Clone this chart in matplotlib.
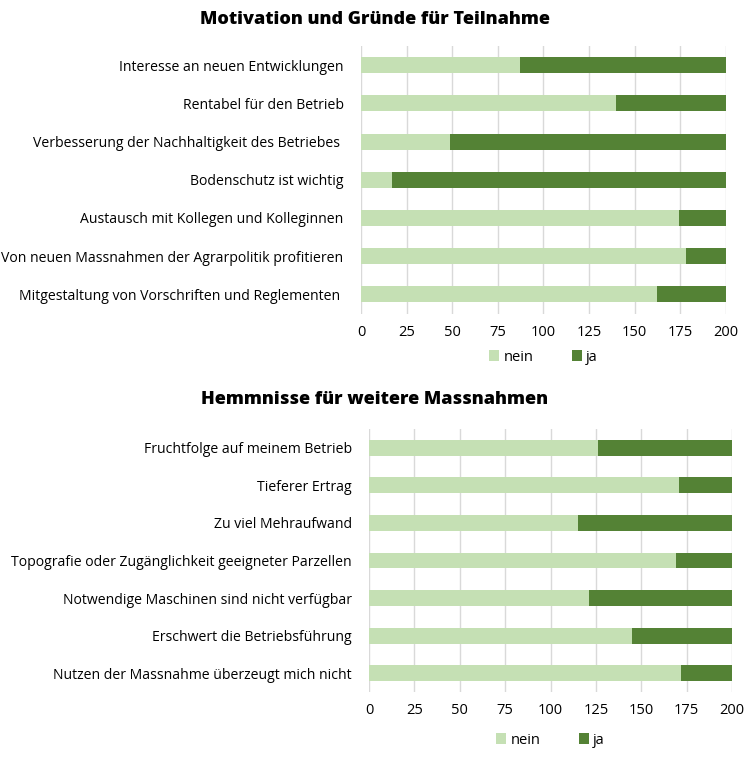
import numpy as np
import matplotlib
matplotlib.use("Agg")
import matplotlib.pyplot as plt

plt.rcParams['font.family'] = ['Open Sans', 'DejaVu Sans']

# Motivation und Gründe für Teilnahme
motiv_labels = [
    "Interesse an neuen Entwicklungen",
    "Rentabel für den Betrieb",
    "Verbesserung der Nachhaltigkeit des Betriebes ",
    "Bodenschutz ist wichtig",
    "Austausch mit Kollegen und Kolleginnen",
    "Von neuen Massnahmen der Agrarpolitik profitieren",
    "Mitgestaltung von Vorschriften und Reglementen ",
]
motiv_nein = [87, 140, 49, 17, 174, 178, 162]
motiv_ja = [113, 60, 151, 183, 26, 22, 38]

# Hemmnisse für weitere Massnahmen
hemm_labels = [
    "Fruchtfolge auf meinem Betrieb",
    "Tieferer Ertrag",
    "Zu viel Mehraufwand",
    "Topografie oder Zugänglichkeit geeigneter Parzellen",
    "Notwendige Maschinen sind nicht verfügbar",
    "Erschwert die Betriebsführung",
    "Nutzen der Massnahme überzeugt mich nicht",
]
hemm_nein = [126, 171, 115, 169, 121, 145, 172]
hemm_ja = [74, 29, 85, 31, 79, 55, 28]

x_ticks = [0, 25, 50, 75, 100, 125, 150, 175, 200]

c_nein = "#c5e0b4"
c_ja = "#548235"

fig = plt.figure(figsize=(7.5, 7.61), dpi=100)


def draw(ax, labels, nein, ja, title, title_y, legend_y):
    y = np.arange(len(labels))
    ax.barh(y, nein, height=0.42, color=c_nein, label="nein", zorder=2)
    ax.barh(y, ja, left=nein, height=0.42, color=c_ja, label="ja", zorder=2)
    ax.set_yticks(y)
    ax.set_yticklabels(labels, fontsize=10.05)
    ax.set_ylim(len(labels) - 0.5, -0.5)
    ax.set_xlim(0, 200)
    ax.set_xticks(x_ticks)
    ax.tick_params(axis='x', labelsize=10.5, length=0, pad=8)
    ax.tick_params(axis='y', length=0, pad=12.5)
    ax.grid(axis='x', color="#d9d9d9", linewidth=1, zorder=0)
    for s in ax.spines.values():
        s.set_visible(False)
    pos = ax.get_position()
    cx = (pos.x0 + pos.x1) / 2
    fig.text(375 / 750, title_y, title, ha='center', va='center',
             fontsize=13, fontweight='heavy')
    fig.legend(handles=ax.get_legend_handles_labels()[0],
               labels=["nein", "ja"], loc='center',
               bbox_to_anchor=(cx, legend_y), ncol=2, frameon=False,
               fontsize=10.5, handlelength=0.7, handleheight=0.7,
               handletextpad=0.3, columnspacing=2.6)


ax1 = fig.add_axes([0.4813, 0.588, 0.4867, 0.3515])
draw(ax1, motiv_labels, motiv_nein, motiv_ja,
     "Motivation und Gründe für Teilnahme", 1 - 20 / 761, 1 - 357 / 761)

ax2 = fig.add_axes([0.492, 0.0907, 0.484, 0.3456])
draw(ax2, hemm_labels, hemm_nein, hemm_ja,
     "Hemmnisse für weitere Massnahmen", 1 - 400 / 761, 1 - 740 / 761)

fig.savefig("out.png", dpi=100)
